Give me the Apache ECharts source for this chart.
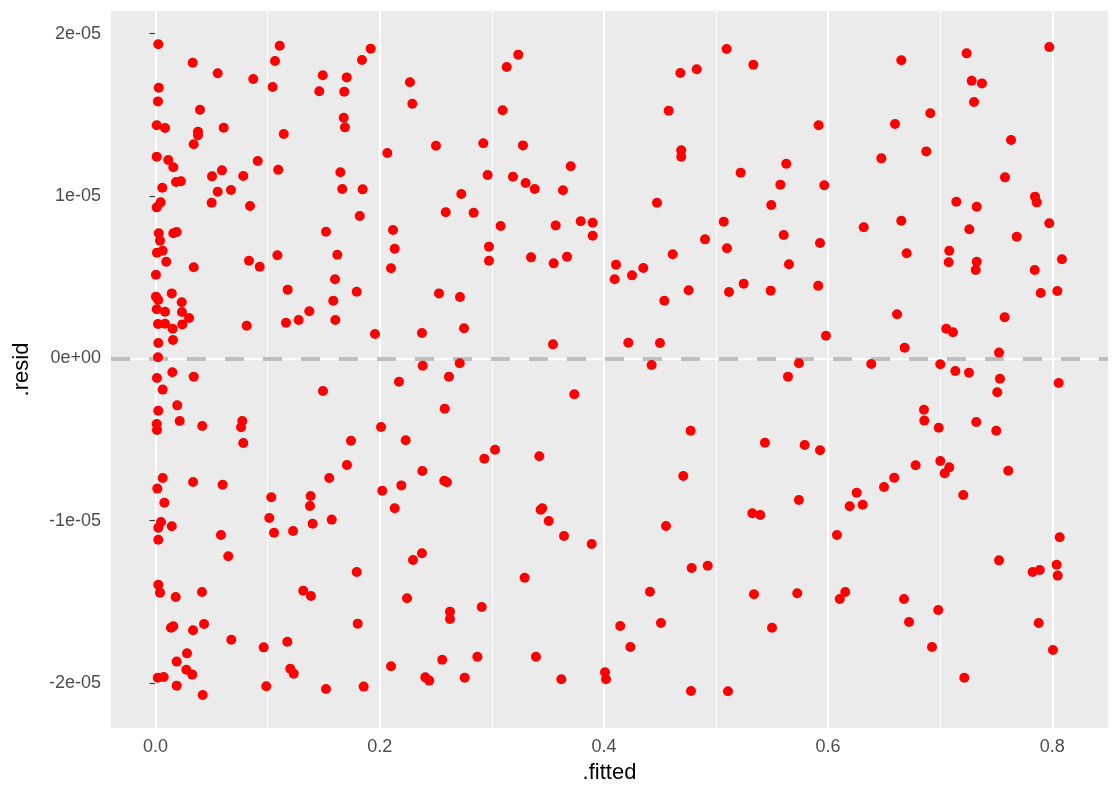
<!DOCTYPE html>
<html>
<head>
<meta charset="utf-8">
<script src="https://cdn.jsdelivr.net/npm/echarts@6/dist/echarts.min.js"></script>
<style>html,body{margin:0;padding:0;background:#fff}#chart{width:1120px;height:800px}</style>
</head>
<body>
<div id="chart"></div>
<script>
const fitted = [
0.0025,0.0332,0.0555,0.0872,0.1108,0.1066,0.1045,0.1492,0.1706,0.1461,
0.1684,0.0029,0.0022,0.0397,0.0011,0.0085,0.0379,0.0379,0.0608,0.0341,
0.1144,0.1679,0.169,0.0011,0.0114,0.0159,0.0912,0.0593,0.0504,0.0783,
0.1095,0.1649,0.0183,0.0227,0.0061,0.0555,0.0673,0.1666,0.0046,0.0011,
0.0501,0.0843,0.1521,0.0029,0.004,0.0159,0.0189,0.192,0.1842,0.227,
0.2291,0.3133,0.3236,0.3097,0.2068,0.2502,0.2924,0.3278,0.3704,0.2963,
0.3189,0.3302,0.3383,0.3635,0.1848,0.2728,0.1822,0.2589,0.2838,0.2119,
0.2134,0.3079,0.2975,0.357,0.3793,0.39,0.39,0.5095,0.5333,0.4828,
0.4682,0.4578,0.5916,0.469,0.469,0.5627,0.522,0.5574,0.5966,0.4474,
0.5493,0.5069,0.4902,0.5604,0.5928,0.5098,0.7973,0.7236,0.6653,0.7281,
0.7373,0.7302,0.6912,0.6597,0.7632,0.6876,0.6475,0.7578,0.7846,0.7861,
0.7144,0.7326,0.6318,0.6653,0.726,0.7973,0.7683,0.0013,0.0064,0.0096,
0.0341,0.0834,0.093,0.1087,0.1622,0.0004,0.1601,0.1179,0.1795,0.1586,
0.1604,0.1372,0.1277,0.1164,0.0814,0.0004,0.0025,0.0145,0.0234,0.0011,
0.0085,0.0236,0.0299,0.0022,0.0085,0.0239,0.0153,0.0156,0.0025,0.0022,
0.015,0.0341,0.0013,0.0064,0.1494,0.0194,0.0025,0.0216,0.0011,0.0013,
0.0417,0.0774,0.0763,0.0783,0.1744,0.1708,0.155,0.0064,0.0016,0.0335,
0.0599,0.2101,0.2975,0.335,0.3552,0.3671,0.2529,0.2716,0.1958,0.2377,
0.2752,0.3546,0.2384,0.2714,0.2618,0.2172,0.3736,0.258,0.2012,0.2232,
0.3029,0.2933,0.3424,0.238,0.2193,0.2576,0.26,0.2023,0.4614,0.4108,
0.4096,0.4251,0.4351,0.5651,0.4539,0.4756,0.5116,0.5247,0.5488,0.5912,
0.4218,0.45,0.5981,0.4426,0.574,0.5642,0.4774,0.5437,0.5791,0.5928,
0.4708,0.6701,0.7081,0.7076,0.7326,0.7317,0.7843,0.8086,0.7897,0.8045,
0.6615,0.7575,0.7054,0.7114,0.6683,0.7525,0.6385,0.7001,0.7135,0.7257,
0.7533,0.8057,0.7509,0.6855,0.6858,0.6987,0.7322,0.75,0.7001,0.7081,
0.704,0.6781,0.7607,0.659,0.6499,0.6255,0.7206,0.6193,0.6309,0.8066,
0.7525,0.7825,0.7888,0.8039,0.8048,0.6677,0.6983,0.6722,0.7879,0.6927,
0.8006,0.7215,0.574,0.5324,0.5395,0.4554,0.6079,0.4783,0.4926,0.4411,
0.5339,0.5725,0.6153,0.6104,0.4146,0.4509,0.55,0.4236,0.401,0.4019,
0.4777,0.5107,0.2134,0.3436,0.345,0.3508,0.3644,0.3891,0.2377,0.2297,
0.1795,0.3293,0.2244,0.2627,0.2627,0.291,0.1804,0.2101,0.2558,0.2871,
0.3394,0.2407,0.2442,0.2758,0.362,0.1857,0.1033,0.1384,0.1378,0.0079,
0.1015,0.1057,0.1227,0.1402,0.1572,0.0049,0.0025,0.0145,0.0025,0.0584,
0.0649,0.0025,0.004,0.018,0.0415,0.1318,0.1387,0.0138,0.0159,0.0335,
0.0433,0.0676,0.0965,0.1176,0.0281,0.0189,0.0275,0.0328,0.1202,0.1233,
0.002,0.0073,0.0189,0.0988,0.1521,0.0421
];
const resid = [
19.35e-6,18.21e-6,17.56e-6,17.21e-6,19.26e-6,18.32e-6,16.72e-6,17.44e-6,17.31e-6,16.45e-6,
16.43e-6,16.67e-6,15.83e-6,15.32e-6,14.36e-6,14.19e-6,13.96e-6,13.74e-6,14.21e-6,13.19e-6,
13.82e-6,14.82e-6,14.23e-6,12.42e-6,12.22e-6,11.77e-6,12.16e-6,11.58e-6,11.21e-6,11.23e-6,
11.62e-6,11.46e-6,10.86e-6,10.91e-6,10.51e-6,10.26e-6,10.37e-6,10.43e-6,9.61e-6,9.30e-6,
9.59e-6,9.38e-6,7.80e-6,7.70e-6,7.25e-6,7.70e-6,7.78e-6,19.08e-6,18.38e-6,17.01e-6,
15.69e-6,17.95e-6,18.71e-6,15.28e-6,12.65e-6,13.10e-6,13.25e-6,13.12e-6,11.83e-6,11.29e-6,
11.19e-6,10.80e-6,10.43e-6,10.35e-6,10.41e-6,10.12e-6,8.77e-6,9.00e-6,8.97e-6,7.91e-6,
6.75e-6,8.15e-6,6.88e-6,8.19e-6,8.44e-6,8.35e-6,7.55e-6,19.06e-6,18.09e-6,17.81e-6,
17.58e-6,15.26e-6,14.36e-6,12.82e-6,12.42e-6,11.99e-6,11.44e-6,10.70e-6,10.66e-6,9.59e-6,
9.45e-6,8.42e-6,7.33e-6,7.60e-6,7.10e-6,6.78e-6,19.18e-6,18.79e-6,18.36e-6,17.10e-6,
16.94e-6,15.79e-6,15.10e-6,14.44e-6,13.45e-6,12.75e-6,12.32e-6,11.15e-6,9.96e-6,9.61e-6,
9.65e-6,9.34e-6,8.07e-6,8.48e-6,7.95e-6,8.32e-6,7.49e-6,6.51e-6,6.63e-6,5.95e-6,
5.61e-6,6.01e-6,5.64e-6,6.35e-6,6.38e-6,5.15e-6,4.87e-6,4.23e-6,4.10e-6,3.55e-6,
2.36e-6,2.90e-6,2.36e-6,2.19e-6,2.01e-6,3.80e-6,3.59e-6,4.00e-6,3.45e-6,3.02e-6,
2.87e-6,2.85e-6,2.48e-6,2.11e-6,2.13e-6,2.09e-6,1.82e-6,1.13e-6,0.94e-6,0.06e-6,
-0.86e-6,-1.13e-6,-1.21e-6,-1.93e-6,-2.01e-6,-2.90e-6,-3.23e-6,-3.86e-6,-4.05e-6,-4.42e-6,
-4.17e-6,-3.86e-6,-4.25e-6,-5.22e-6,-5.08e-6,-6.57e-6,-7.38e-6,-7.38e-6,-8.03e-6,-7.62e-6,
-7.79e-6,5.55e-6,6.01e-6,6.22e-6,5.85e-6,6.26e-6,4.00e-6,3.78e-6,1.50e-6,1.56e-6,
1.85e-6,0.86e-6,-0.46e-6,-0.31e-6,-1.13e-6,-1.44e-6,-2.22e-6,-3.11e-6,-4.23e-6,-5.05e-6,
-5.63e-6,-6.19e-6,-6.04e-6,-6.94e-6,-7.83e-6,-7.54e-6,-7.64e-6,-8.16e-6,6.41e-6,5.77e-6,
4.87e-6,5.11e-6,5.56e-6,5.79e-6,3.55e-6,4.19e-6,4.09e-6,4.60e-6,4.17e-6,4.47e-6,
0.96e-6,0.94e-6,1.39e-6,-0.41e-6,-0.31e-6,-1.13e-6,-4.46e-6,-5.20e-6,-5.34e-6,-5.67e-6,
-7.25e-6,6.47e-6,6.63e-6,5.92e-6,5.95e-6,5.44e-6,5.44e-6,6.10e-6,4.02e-6,4.15e-6,
2.71e-6,2.53e-6,1.82e-6,1.60e-6,0.65e-6,0.35e-6,-0.35e-6,-0.37e-6,-0.78e-6,-0.89e-6,
-1.26e-6,-1.52e-6,-2.09e-6,-3.17e-6,-3.84e-6,-4.28e-6,-3.92e-6,-4.46e-6,-6.33e-6,-6.72e-6,
-7.09e-6,-6.59e-6,-6.93e-6,-7.36e-6,-7.93e-6,-8.28e-6,-8.42e-6,-9.12e-6,-9.02e-6,-11.03e-6,
-12.45e-6,-13.17e-6,-13.04e-6,-12.72e-6,-13.39e-6,-14.83e-6,-15.51e-6,-16.25e-6,-16.31e-6,-17.79e-6,
-17.97e-6,-19.68e-6,-8.73e-6,-9.55e-6,-9.65e-6,-10.33e-6,-10.89e-6,-12.92e-6,-12.78e-6,-14.38e-6,
-14.54e-6,-14.48e-6,-14.40e-6,-14.83e-6,-16.49e-6,-16.31e-6,-16.60e-6,-17.79e-6,-19.35e-6,-19.78e-6,
-20.50e-6,-20.52e-6,-9.24e-6,-9.33e-6,-9.24e-6,-10.02e-6,-10.95e-6,-11.44e-6,-12.01e-6,-12.43e-6,
-13.17e-6,-13.52e-6,-14.79e-6,-15.61e-6,-16.06e-6,-15.32e-6,-16.35e-6,-18.98e-6,-18.57e-6,-18.39e-6,
-18.39e-6,-19.66e-6,-19.86e-6,-19.68e-6,-19.78e-6,-20.23e-6,-8.56e-6,-8.48e-6,-9.10e-6,-8.90e-6,
-9.84e-6,-10.75e-6,-10.64e-6,-10.19e-6,-9.94e-6,-10.09e-6,-10.44e-6,-10.35e-6,-11.18e-6,-10.89e-6,
-12.20e-6,-13.95e-6,-14.44e-6,-14.71e-6,-14.40e-6,-14.32e-6,-14.65e-6,-16.60e-6,-16.51e-6,-16.76e-6,
-16.37e-6,-17.34e-6,-17.81e-6,-17.46e-6,-18.18e-6,-18.69e-6,-19.19e-6,-19.49e-6,-19.13e-6,-19.43e-6,
-19.68e-6,-19.64e-6,-20.17e-6,-20.21e-6,-20.38e-6,-20.75e-6
];
const xTicks = [0, 0.2, 0.4, 0.6, 0.8];
const xTickLabels = ['0.0', '0.2', '0.4', '0.6', '0.8'];
const xMinor = [0.1, 0.3, 0.5, 0.7];
const yTicks = [-2e-5, -1e-5, 0, 1e-5, 2e-5];
const yTickLabels = ['-2e-05', '-1e-05', '0e+00', '1e-05', '2e-05'];
const yMinor = [-1.5e-5, -0.5e-5, 0.5e-5, 1.5e-5];
const refLine = 0;

const xLim = [-0.0397, 0.8497];
const yLim = [-22.78e-6, 21.40e-6];

function lookup(ticks, labels, v) {
  for (let i = 0; i < ticks.length; i++) {
    if (Math.abs(ticks[i] - v) < 1e-12) return labels[i];
  }
  return '';
}

const points = fitted.map((f, i) => [f, resid[i]]);
const font = 'Liberation Sans, Arial, Helvetica, sans-serif';

const gridLines = [];
xMinor.forEach(v => gridLines.push({ xAxis: v, lineStyle: { color: '#FFFFFF', width: 1.1, type: 'solid' } }));
yMinor.forEach(v => gridLines.push({ yAxis: v, lineStyle: { color: '#FFFFFF', width: 1.1, type: 'solid' } }));
xTicks.forEach(v => gridLines.push({ xAxis: v, lineStyle: { color: '#FFFFFF', width: 2.2, type: 'solid' } }));
yTicks.forEach(v => gridLines.push({ yAxis: v, lineStyle: { color: '#FFFFFF', width: 2.2, type: 'solid' } }));
gridLines.push({ yAxis: refLine, lineStyle: { color: '#BEBEBE', width: 4, type: [19, 19] } });

const chart = echarts.init(document.getElementById('chart'), null, { renderer: 'canvas' });
chart.setOption({
  animation: false,
  backgroundColor: '#FFFFFF',
  grid: {
    left: 111, right: 12, top: 11, bottom: 72,
    show: true, backgroundColor: '#EBEBEB', borderWidth: 0,
    containLabel: false, outerBoundsMode: 'none'
  },
  xAxis: {
    type: 'value', min: xLim[0], max: xLim[1],
    splitLine: { show: false },
    axisLine: { show: false },
    axisTick: { show: true, customValues: xTicks, length: 6, lineStyle: { color: '#333333', width: 1.1 } },
    axisLabel: {
      customValues: xTicks, color: '#4D4D4D', fontSize: 18, fontFamily: font, margin: 10,
      formatter: v => lookup(xTicks, xTickLabels, v)
    },
    name: '.fitted', nameLocation: 'middle', nameGap: 34,
    nameTextStyle: { color: '#000000', fontSize: 22, fontFamily: font }
  },
  yAxis: {
    type: 'value', min: yLim[0], max: yLim[1],
    splitLine: { show: false },
    axisLine: { show: false },
    axisTick: { show: true, customValues: yTicks, length: 6, lineStyle: { color: '#333333', width: 1.1 } },
    axisLabel: {
      customValues: yTicks, color: '#4D4D4D', fontSize: 18, fontFamily: font, margin: 10,
      formatter: v => lookup(yTicks, yTickLabels, v)
    },
    name: '.resid', nameLocation: 'middle', nameGap: 78, nameRotate: 90,
    nameTextStyle: { color: '#000000', fontSize: 22, fontFamily: font }
  },
  series: [{
    type: 'scatter',
    z: 3,
    data: points,
    symbol: 'circle',
    symbolSize: 10,
    itemStyle: { color: '#FF0000', opacity: 1 },
    emphasis: { disabled: true },
    markLine: {
      z: 1, silent: true, animation: false,
      symbol: ['none', 'none'],
      label: { show: false },
      emphasis: { disabled: true },
      data: gridLines
    }
  }]
});
</script>
</body>
</html>
